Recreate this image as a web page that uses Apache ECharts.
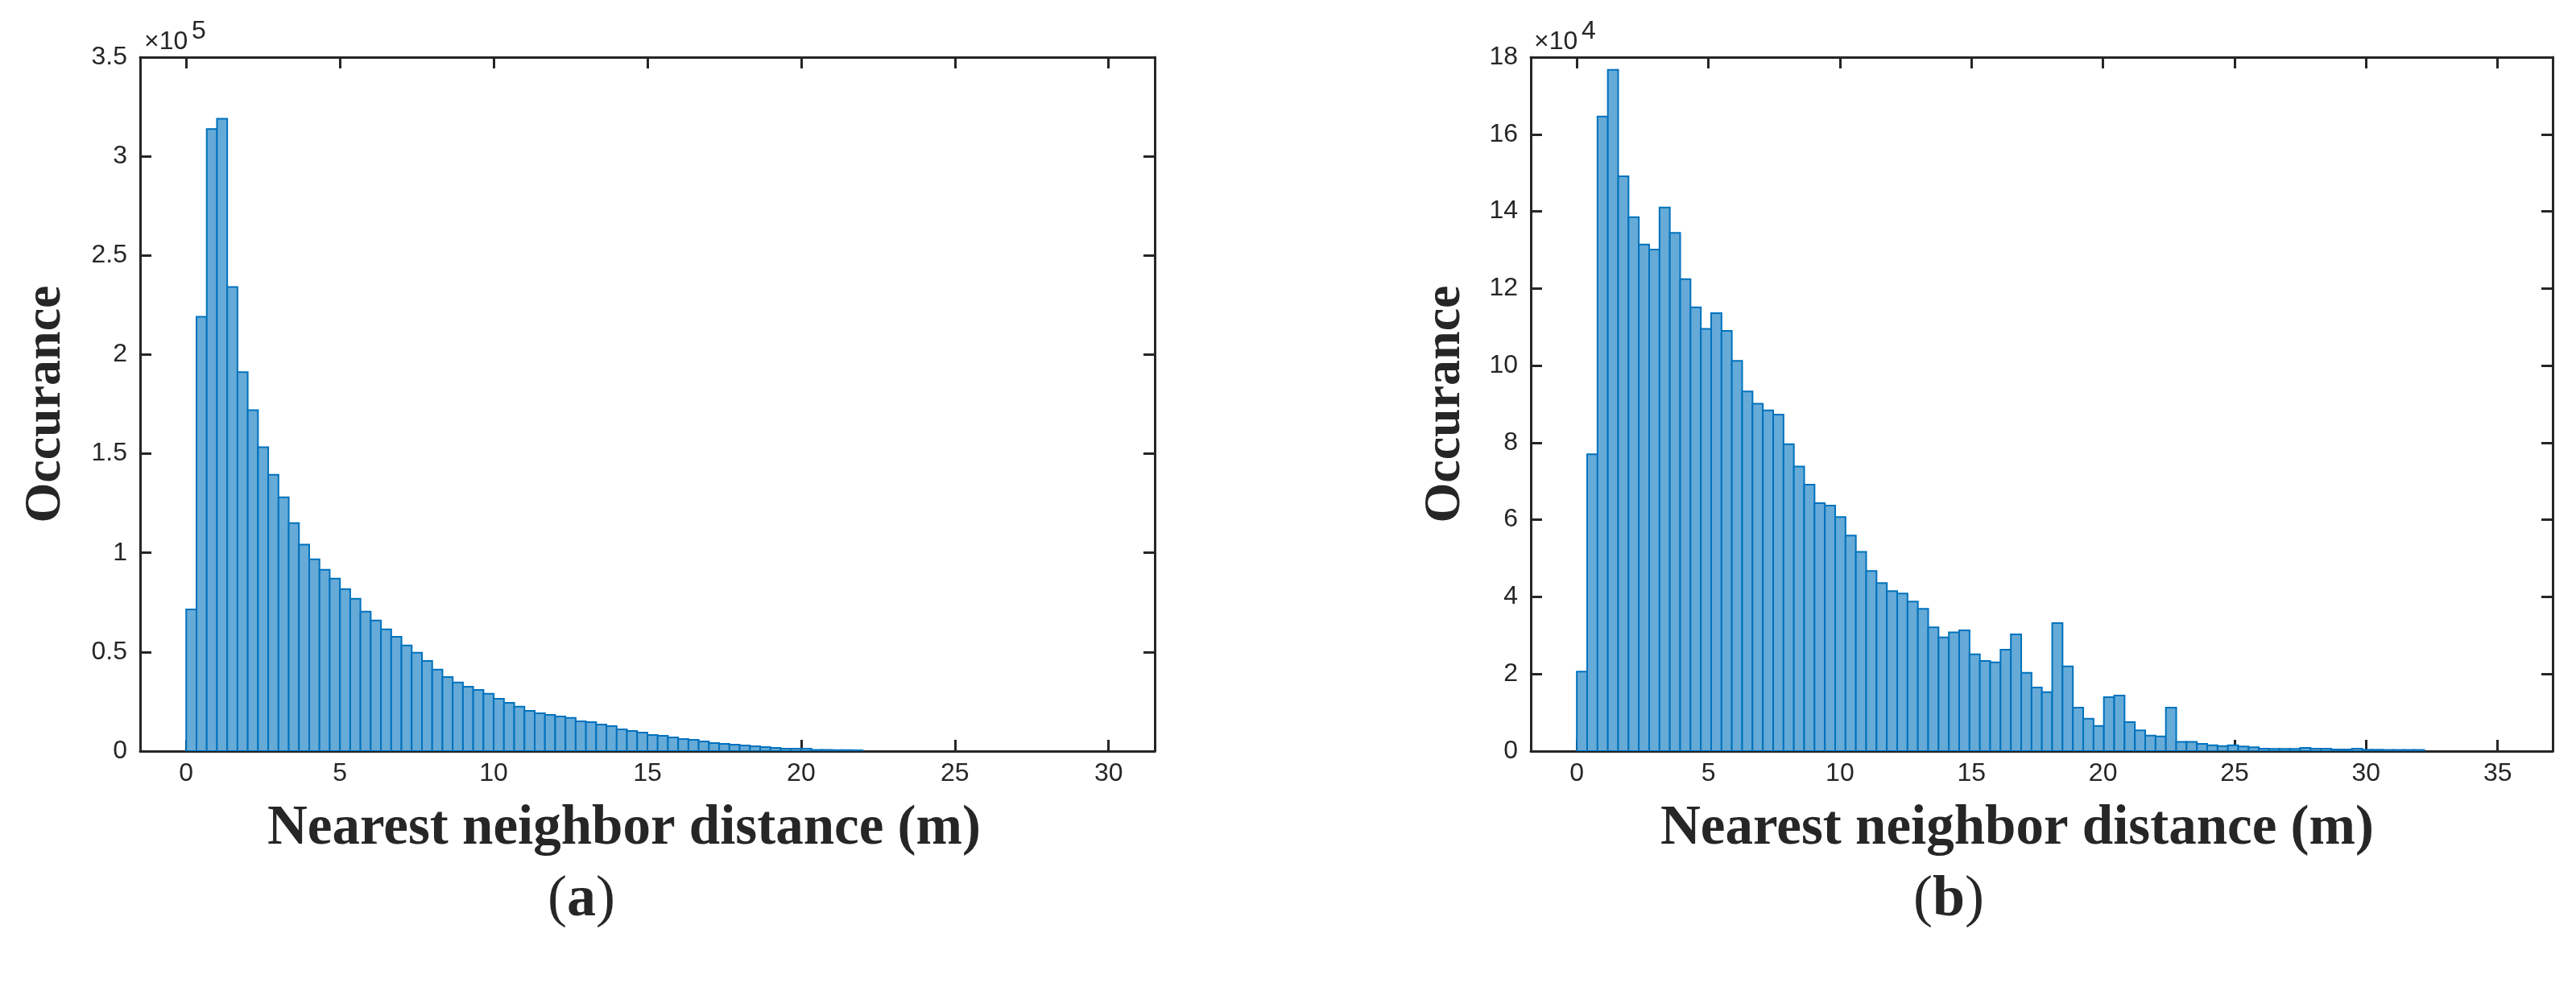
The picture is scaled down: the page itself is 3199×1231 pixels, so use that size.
<!DOCTYPE html>
<html>
<head>
<meta charset="utf-8">
<script src="https://cdn.jsdelivr.net/npm/echarts@6/dist/echarts.min.js"></script>
<style>
  html, body { margin: 0; padding: 0; background: #ffffff; }
  #chart { width: 3199px; height: 1231px; }
</style>
</head>
<body>
<div id="chart"></div>
<script>
// ---------- DATA ----------
// Panel (a): 90 bins from 0 to 30 m
const binStartA = 0;
const binWidthA = 1 / 3;
const countsA = [
  71500, 219100, 313800, 318900, 234100, 191100, 172000, 153300, 139400, 128000,
  115000, 104100, 96700, 91500, 87000, 81700, 76800, 70300, 65900, 61400,
  57700, 53300, 49600, 45500, 41100, 37400, 34600, 32500, 30900, 28900,
  26400, 24400, 22400, 20300, 19100, 18300, 17500, 16700, 15000, 14600,
  13400, 12600, 11000, 10200, 9350, 8130, 7720, 6910, 6100, 5690,
  4880, 4070, 3660, 3250, 2850, 2440, 2030, 1630, 1220, 1220,
  1220, 600, 600, 500, 500, 400, 0, 0, 0, 0,
  0, 0, 0, 0, 0, 0, 0, 0, 0, 0,
  0, 0, 0, 0, 0, 0, 0, 0, 0, 0
];
const xTicksA = [0, 5, 10, 15, 20, 25, 30];
const yTicksLabelScaleA = 1e5;

// Panel (b): 90 bins from 0 to ~35.35 m
const binStartB = 0;
const binWidthB = 0.3928;
const countsB = [
  20600, 77000, 164600, 176700, 149100, 138500, 131400, 130100, 141000, 134400,
  122400, 115100, 109500, 113600, 109000, 101200, 93300, 90100, 88400, 87300,
  79600, 73800, 69100, 64300, 63700, 60700, 55900, 51700, 46700, 43600,
  41500, 40900, 38800, 36900, 32100, 29500, 30800, 31300, 25100, 23400,
  23000, 26300, 30300, 20300, 16500, 15300, 33200, 22000, 11300, 8400,
  6500, 14000, 14400, 7500, 5400, 4000, 3800, 11300, 2400, 2400,
  1900, 1500, 1300, 1500, 1200, 1000, 630, 600, 600, 600,
  840, 630, 630, 420, 420, 630, 350, 350, 300, 300,
  300, 300, 0, 0, 0, 0, 0, 0, 0, 0
];
const xTicksB = [0, 5, 10, 15, 20, 25, 30, 35];
const yTicksLabelScaleB = 1e4;

const xLabel = 'Nearest neighbor distance (m)';
const yLabel = 'Occurance';

// ---------- STYLE ----------
const AX = '#262626';
const FACE = '#66AAD7';
const EDGE = '#0072BD';
const TICKFONT = '"Liberation Sans", Arial, sans-serif';
const SERIF = '"Liberation Serif", "Times New Roman", serif';

function binData(start, width, counts) {
  const out = [];
  counts.forEach((c, i) => {
    if (c > 0) out.push([start + i * width, start + (i + 1) * width, c]);
  });
  return out;
}

function renderBar(params, api) {
  const p0 = api.coord([api.value(0), 0]);
  const p1 = api.coord([api.value(1), api.value(2)]);
  return {
    type: 'rect',
    shape: { x: p0[0], y: p1[1], width: p1[0] - p0[0], height: p0[1] - p1[1] },
    style: { fill: FACE, stroke: EDGE, lineWidth: 2 }
  };
}

function makeXAxes(gridIndex, min, max, ticks) {
  const common = {
    type: 'value', gridIndex, min, max,
    splitLine: { show: false },
    axisLine: { show: true, onZero: false, lineStyle: { color: AX, width: 3 } },
    axisTick: { show: true, inside: true, length: 14, customValues: ticks, lineStyle: { color: AX, width: 3 } }
  };
  return [
    Object.assign({}, common, {
      position: 'bottom',
      axisLabel: { show: true, customValues: ticks, color: AX, fontSize: 32, fontFamily: TICKFONT, margin: 12 }
    }),
    Object.assign({}, common, { position: 'top', axisLabel: { show: false } })
  ];
}

function makeYAxes(gridIndex, max, interval, scale) {
  const common = {
    type: 'value', gridIndex, min: 0, max, interval,
    splitLine: { show: false },
    axisLine: { show: true, onZero: false, lineStyle: { color: AX, width: 3 } },
    axisTick: { show: true, inside: true, length: 14, lineStyle: { color: AX, width: 3 } }
  };
  return [
    Object.assign({}, common, {
      position: 'left',
      axisLabel: { show: true, color: AX, fontSize: 32, fontFamily: TICKFONT, margin: 16,
        formatter: v => String(+(v / scale).toFixed(2)) }
    }),
    Object.assign({}, common, { position: 'right', axisLabel: { show: false } })
  ];
}

const chart = echarts.init(document.getElementById('chart'), null, { renderer: 'canvas' });

const gridA = { left: 174, top: 71, width: 1260, height: 862 };
const gridB = { left: 1901, top: 71, width: 1269, height: 862 };

function txt(x, y, text, font, align, vAlign, rotation) {
  return {
    type: 'text', x, y, rotation: rotation || 0,
    style: { text, font, fill: AX, align: align || 'center', verticalAlign: vAlign || 'middle' }
  };
}
function panelLabel(x, y, letter) {
  return {
    type: 'text', x, y,
    style: {
      text: '{p|(}{b|' + letter + '}{p|)}',
      align: 'center', verticalAlign: 'middle',
      rich: {
        p: { fontFamily: SERIF, fontSize: 72, fontWeight: 'normal', fill: AX },
        b: { fontFamily: SERIF, fontSize: 72, fontWeight: 'bold', fill: AX }
      }
    }
  };
}

const option = {
  backgroundColor: '#ffffff',
  animation: false,
  grid: [
    Object.assign({ containLabel: false }, gridA),
    Object.assign({ containLabel: false }, gridB)
  ],
  xAxis: [].concat(makeXAxes(0, -1.5, 31.5, xTicksA), makeXAxes(1, -1.75, 37.09, xTicksB)),
  yAxis: [].concat(makeYAxes(0, 350000, 50000, yTicksLabelScaleA), makeYAxes(1, 180000, 20000, yTicksLabelScaleB)),
  series: [
    {
      type: 'custom', xAxisIndex: 0, yAxisIndex: 0,
      renderItem: renderBar, encode: { x: [0, 1], y: 2 },
      data: binData(binStartA, binWidthA, countsA), clip: true
    },
    {
      type: 'custom', xAxisIndex: 2, yAxisIndex: 2,
      renderItem: renderBar, encode: { x: [0, 1], y: 2 },
      data: binData(binStartB, binWidthB, countsB), clip: true
    }
  ],
  graphic: [
    // exponent labels
    txt(179, 52, '×10', '32px ' + TICKFONT, 'left'),
    txt(238, 39, '5', '32px ' + TICKFONT, 'left'),
    txt(1905, 52, '×10', '32px ' + TICKFONT, 'left'),
    txt(1964, 39, '4', '32px ' + TICKFONT, 'left'),
    // y labels
    txt(57, 502, yLabel, 'bold 64px ' + SERIF, 'center', 'middle', Math.PI / 2),
    txt(1795, 502, yLabel, 'bold 64px ' + SERIF, 'center', 'middle', Math.PI / 2),
    // x labels
    txt(775, 1030, xLabel, 'bold 69px ' + SERIF),
    txt(2505, 1030, xLabel, 'bold 69px ' + SERIF),
    // panel labels
    panelLabel(722, 1118, 'a'),
    panelLabel(2420, 1118, 'b')
  ]
};

chart.setOption(option);
</script>
</body>
</html>
